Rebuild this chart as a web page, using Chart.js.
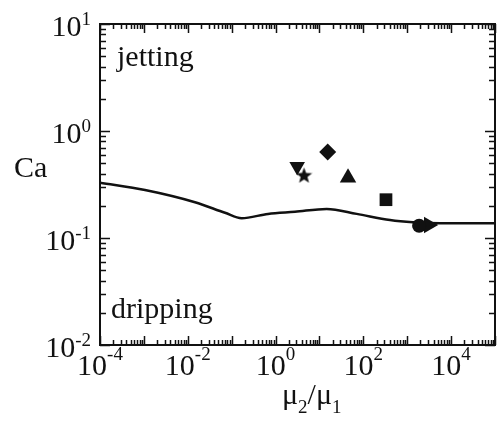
<!DOCTYPE html>
<html>
<head>
<meta charset="utf-8">
<script src="https://cdn.jsdelivr.net/npm/chart.js@4"></script>
<style>
  html, body { margin: 0; padding: 0; background: #fff; }
</style>
</head>
<body>
<canvas id="chart" width="497" height="423"></canvas>
<script>
// Критична крива Ca(μ2/μ1)
const curveRatio = [1e-4, 1.06e-3, 0.0146, 0.0705, 0.169, 0.673, 2.77, 14.6, 70.6, 405, 1350, 5580, 1e5];
const curveCa    = [0.329, 0.281, 0.216, 0.172, 0.153, 0.168, 0.176, 0.187, 0.168, 0.147, 0.140, 0.137, 0.137];

// Окремі точки (маркери)
const pointNames = ["down", "star", "diamond", "up", "square", "circle", "right"];
const pointRatio = [3.11, 4.45, 15.4, 44.8, 328, 1866, 3090];
const pointCa    = [0.465, 0.388, 0.637, 0.366, 0.228, 0.130, 0.132];

// Підписи осей
const xTickExp = [-4, -2, 0, 2, 4];
const yTickExp = [-2, -1, 0, 1];

const SERIF = "'Liberation Serif', 'Times New Roman', serif";

// заповнена п'ятикутна зірка як картинка для pointStyle
function makeStar(size) {
    const c = document.createElement("canvas");
    c.width = size; c.height = size;
    const g = c.getContext("2d");
    const cx = size / 2, cy = size / 2 + 0.9, ro = size / 2, ri = ro * 0.42;
    g.beginPath();
    for (let i = 0; i < 10; i++) {
        const r = i % 2 ? ri : ro;
        const a = -Math.PI / 2 + i * Math.PI / 5;
        g.lineTo(cx + r * Math.cos(a), cy + r * Math.sin(a));
    }
    g.closePath();
    g.fillStyle = "#111";
    g.fill();
    return c;
}

const markerStyle = {
    down:    { pointStyle: "triangle", rotation: 180, radius: 9 },
    star:    { pointStyle: makeStar(17), rotation: 0, radius: 8 },
    diamond: { pointStyle: "rectRot", rotation: 0, radius: 8.5 },
    up:      { pointStyle: "triangle", rotation: 0, radius: 9.5 },
    square:  { pointStyle: "rect", rotation: 0, radius: 9 },
    circle:  { pointStyle: "circle", rotation: 0, radius: 7 },
    right:   { pointStyle: "triangle", rotation: 90, radius: 9.5 }
};

const pointSets = pointNames.map((name, i) => ({
    label: name,
    data: [{ x: pointRatio[i], y: pointCa[i] }],
    showLine: false,
    pointStyle: markerStyle[name].pointStyle,
    rotation: markerStyle[name].rotation,
    pointRadius: markerStyle[name].radius,
    pointBackgroundColor: "#111",
    pointBorderColor: "#111",
    pointBorderWidth: 0
}));

// рамка, внутрішні засічки і всі підписи
const decor = {
    id: "decor",
    afterDatasetsDraw(chart) {
        const ctx = chart.ctx, a = chart.chartArea;
        const xs = chart.scales.x, ys = chart.scales.y;
        ctx.save();
        ctx.strokeStyle = "#111";
        ctx.lineWidth = 1.5;
        ctx.beginPath();
        for (let e = -4; e <= 5; e++) {
            for (let m = 1; m < 10; m++) {
                const v = m * Math.pow(10, e);
                if (v > 1e5) break;
                const p = Math.round(xs.getPixelForValue(v)) + 0.5;
                const len = m === 1 ? 9 : 5;
                ctx.moveTo(p, a.bottom); ctx.lineTo(p, a.bottom - len);
                ctx.moveTo(p, a.top); ctx.lineTo(p, a.top + len);
            }
        }
        for (let e = -2; e <= 1; e++) {
            for (let m = 1; m < 10; m++) {
                const v = m * Math.pow(10, e);
                if (v > 10) break;
                const p = Math.round(ys.getPixelForValue(v)) + 0.5;
                const len = m === 1 ? 10 : 6;
                ctx.moveTo(a.left, p); ctx.lineTo(a.left + len, p);
                ctx.moveTo(a.right, p); ctx.lineTo(a.right - len, p);
            }
        }
        ctx.stroke();
        ctx.lineWidth = 2;
        ctx.strokeRect(a.left, a.top, a.right - a.left, a.bottom - a.top);
        ctx.restore();
    },
    afterDraw(chart) {
        const ctx = chart.ctx, a = chart.chartArea;
        const xs = chart.scales.x, ys = chart.scales.y;
        const big = "30px " + SERIF, small = "19px " + SERIF;
        ctx.save();
        ctx.fillStyle = "#111";
        ctx.textBaseline = "alphabetic";
        ctx.textAlign = "left";

        // x: 10^n
        xTickExp.forEach(n => {
            const p = xs.getPixelForValue(Math.pow(10, n));
            ctx.font = big; const w1 = ctx.measureText("10").width;
            ctx.font = small; const w2 = ctx.measureText(String(n)).width;
            const x0 = p - (w1 + w2) / 2;
            ctx.font = big; ctx.fillText("10", x0, a.bottom + 30);
            ctx.font = small; ctx.fillText(String(n), x0 + w1, a.bottom + 15);
        });
        // y: 10^n
        yTickExp.forEach(n => {
            const p = ys.getPixelForValue(Math.pow(10, n));
            ctx.font = big; const w1 = ctx.measureText("10").width;
            ctx.font = small; const w2 = ctx.measureText(String(n)).width;
            const x0 = a.left - 9 - w1 - w2;
            ctx.font = big; ctx.fillText("10", x0, p + 12);
            ctx.font = small; ctx.fillText(String(n), x0 + w1, p + 1);
        });

        // назви осей
        ctx.font = big;
        ctx.fillText("Ca", 14, 177);
        let x = 282;
        const parts = [["μ", big, 0], ["2", small, 9], ["/", big, 0], ["μ", big, 0], ["1", small, 9]];
        parts.forEach(([t, f, dy]) => {
            ctx.font = f;
            ctx.fillText(t, x, 404 + dy);
            x += ctx.measureText(t).width;
        });

        // області
        ctx.font = big;
        ctx.fillText("jetting", 117, 66);
        ctx.fillText("dripping", 111, 318);
        ctx.restore();
    }
};

const ctx = document.getElementById("chart").getContext("2d");
new Chart(ctx, {
    type: "scatter",
    data: {
        datasets: [
            {
                label: "critical",
                data: curveRatio.map((r, i) => ({ x: r, y: curveCa[i] })),
                showLine: true,
                borderColor: "#111",
                borderWidth: 2.5,
                pointRadius: 0,
                cubicInterpolationMode: "monotone",
                order: 2
            },
            ...pointSets
        ]
    },
    options: {
        responsive: false,
        animation: false,
        events: [],
        layout: { autoPadding: false, padding: { left: 100, top: 24, right: 2, bottom: 78 } },
        plugins: { legend: { display: false }, tooltip: { enabled: false } },
        scales: {
            x: { type: "logarithmic", min: 1e-4, max: 1e5, display: false },
            y: { type: "logarithmic", min: 1e-2, max: 10, display: false }
        }
    },
    plugins: [decor]
});
</script>
</body>
</html>
